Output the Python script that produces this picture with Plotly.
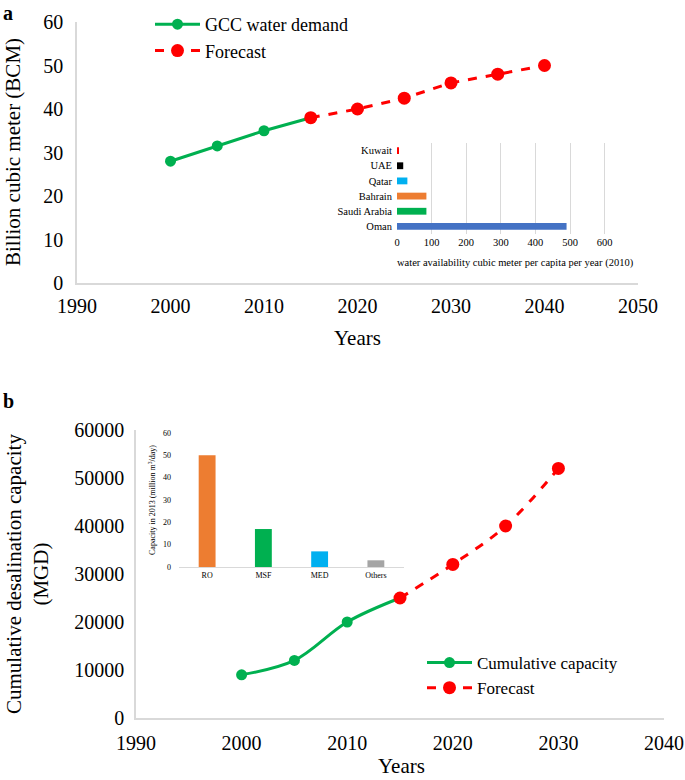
import plotly.graph_objects as go

# panel a - GCC water demand (BCM)
years_a = [2000, 2005, 2010, 2015]
demand_a = [28, 31.5, 35, 38]
years_fc_a = [2015, 2020, 2025, 2030, 2035, 2040]
forecast_a = [38, 40, 42.5, 46, 48, 50]

# inset a - water availability per capita (2010)
countries = ["Oman", "Saudi Arabia", "Bahrain", "Qatar", "UAE", "Kuwait"]
availability = [490, 85, 85, 30, 18, 5]
country_colors = ["#4472C4", "#00B050", "#ED7D31", "#00B0F0", "#000000", "#FF0000"]

# panel b - cumulative desalination capacity (MGD)
years_b = [2000, 2005, 2010, 2015]
capacity_b = [9000, 12000, 20000, 25000]
years_fc_b = [2015, 2020, 2025, 2030]
forecast_b = [25000, 32000, 40000, 52000]

# inset b - capacity by technology in 2013
techs = ["RO", "MSF", "MED", "Others"]
tech_cap = [50, 17, 7, 3]
tech_colors = ["#ED7D31", "#00B050", "#00B0F0", "#A5A5A5"]

W, H = 685, 780
FONT = "Liberation Serif"
GREEN = "#00B050"
RED = "#FF0000"
AXC = "#D9D9D9"


def px(x):
    return x / W


def py(y):
    return 1 - y / H


fig = go.Figure()

# ---- panel a
fig.add_trace(go.Scatter(x=years_a, y=demand_a, mode="lines+markers", name="GCC water demand",
                         line=dict(color=GREEN, width=3), marker=dict(size=11, color=GREEN),
                         xaxis="x", yaxis="y", legend="legend"))
fig.add_trace(go.Scatter(x=years_fc_a, y=forecast_a, mode="lines+markers", name="Forecast",
                         line=dict(color=RED, width=3, dash="dash"), marker=dict(size=13, color=RED),
                         xaxis="x", yaxis="y", legend="legend"))

fig.add_trace(go.Bar(x=availability, y=countries, orientation="h", marker_color=country_colors,
                     width=0.45, showlegend=False, xaxis="x2", yaxis="y2"))

# ---- panel b
fig.add_trace(go.Scatter(x=years_b, y=capacity_b, mode="lines+markers", name="Cumulative capacity",
                         line=dict(color=GREEN, width=3, shape="spline"), marker=dict(size=11, color=GREEN),
                         xaxis="x3", yaxis="y3", legend="legend2"))
fig.add_trace(go.Scatter(x=years_fc_b, y=forecast_b, mode="lines+markers", name="Forecast",
                         line=dict(color=RED, width=3, dash="dash", shape="spline"),
                         marker=dict(size=13, color=RED),
                         xaxis="x3", yaxis="y3", legend="legend2"))

fig.add_trace(go.Bar(x=techs, y=tech_cap, marker_color=tech_colors, width=0.3,
                     showlegend=False, xaxis="x4", yaxis="y4"))

main_tick = dict(family=FONT, size=20, color="black")
small = dict(family=FONT, size=10.5, color="black")
tiny = dict(family=FONT, size=8, color="black")

fig.update_layout(
    template="none",
    width=W, height=H,
    margin=dict(l=0, r=0, t=0, b=0, autoexpand=False),
    paper_bgcolor="white", plot_bgcolor="rgba(0,0,0,0)",
    font=dict(family=FONT, color="black"),
    xaxis=dict(domain=[px(77), px(638)], range=[1990, 2050], dtick=10, anchor="y", automargin=False,
               showline=True, linecolor=AXC, linewidth=1.5, showgrid=False, zeroline=False,
               ticks="", tickfont=main_tick, ticklabelstandoff=4),
    yaxis=dict(domain=[py(283), py(22)], range=[0, 60], dtick=10, anchor="x", automargin=False,
               showline=True, linecolor=AXC, linewidth=1.5, showgrid=False, zeroline=False,
               ticks="", tickfont=main_tick, ticklabelstandoff=8),
    xaxis2=dict(domain=[px(397), px(615)], range=[0, 630], tickvals=[0, 100, 200, 300, 400, 500, 600],
                anchor="y2", automargin=False, showline=False, showgrid=True, gridcolor=AXC, gridwidth=1,
                zeroline=False, ticks="", tickfont=small),
    yaxis2=dict(domain=[py(234), py(143)], anchor="x2", automargin=False,
                categoryorder="array", categoryarray=countries,
                showline=False, showgrid=False, ticks="", tickfont=small, ticklabelstandoff=4),
    xaxis3=dict(domain=[px(136), px(664)], range=[1990, 2040], dtick=10, anchor="y3", automargin=False,
                showline=True, linecolor=AXC, linewidth=1.5, showgrid=False, zeroline=False,
                ticks="", tickfont=main_tick, ticklabelstandoff=6),
    yaxis3=dict(domain=[py(718), py(430)], range=[0, 60000], dtick=10000, anchor="x3", automargin=False,
                tickformat="d", showline=True, linecolor=AXC, linewidth=1.5, showgrid=False,
                zeroline=False, ticks="", tickfont=main_tick, ticklabelstandoff=6),
    xaxis4=dict(domain=[px(179), px(404)], anchor="y4", automargin=False, showline=True,
                linecolor=AXC, linewidth=1, showgrid=False, ticks="", tickfont=tiny),
    yaxis4=dict(domain=[py(567), py(433)], range=[0, 60], dtick=10, anchor="x4", automargin=False,
                showline=False, showgrid=False, zeroline=False, ticks="",
                tickfont=tiny, ticklabelstandoff=7),
    legend=dict(x=px(150), y=py(6), xanchor="left", yanchor="top", bgcolor="rgba(0,0,0,0)",
                font=dict(family=FONT, size=18), itemwidth=45, tracegroupgap=4),
    legend2=dict(x=px(422), y=py(645), xanchor="left", yanchor="top", bgcolor="rgba(0,0,0,0)",
                 font=dict(family=FONT, size=17), itemwidth=45),
    showlegend=True,
)

annots = [
    dict(text="<b>a</b>", x=px(1), y=py(0), xanchor="left", yanchor="top", size=20),
    dict(text="<b>b</b>", x=px(1), y=py(388), xanchor="left", yanchor="top", size=20),
    dict(text="Years", x=px(357), y=py(338), xanchor="center", yanchor="middle", size=21),
    dict(text="Years", x=px(401), y=py(766), xanchor="center", yanchor="middle", size=21),
    dict(text="Billion cubic meter (BCM)", x=px(13), y=py(152), xanchor="center", yanchor="middle",
         size=21, angle=-90),
    dict(text="Cumulative desalination capacity<br>(MGD)", x=px(27), y=py(574), xanchor="center",
         yanchor="middle", size=21, angle=-90),
    dict(text="water availability cubic meter per capita per year (2010)", x=px(515), y=py(263),
         xanchor="center", yanchor="middle", size=10.5),
    dict(text="Capacity in 2013 (million m<sup>3</sup>/day)", x=px(152), y=py(500),
         xanchor="center", yanchor="middle", size=8, angle=-90),
]
for a in annots:
    fig.add_annotation(text=a["text"], x=a["x"], y=a["y"], xref="paper", yref="paper",
                       xanchor=a["xanchor"], yanchor=a["yanchor"], showarrow=False,
                       textangle=a.get("angle", 0), font=dict(family=FONT, size=a["size"], color="black"))

fig.write_html("out.html", config={"displayModeBar": False},
               post_script="document.body.style.margin = '0';")
